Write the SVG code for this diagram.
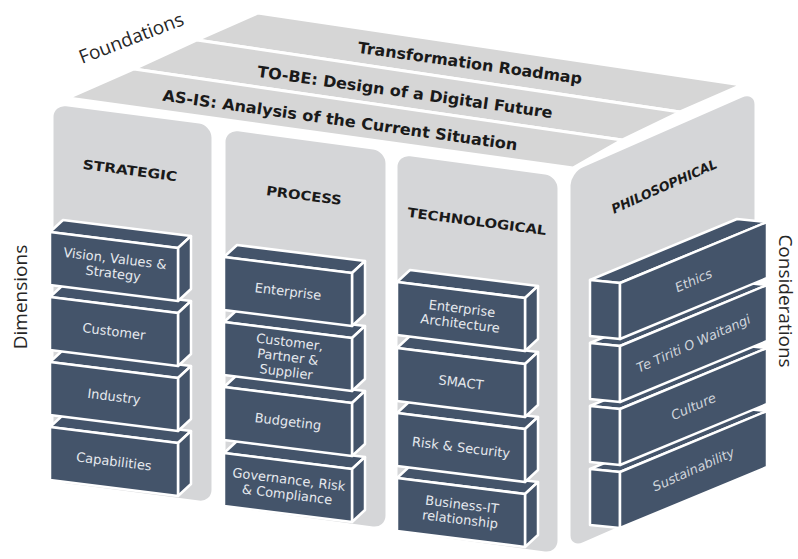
<svg xmlns="http://www.w3.org/2000/svg" xmlns:xlink="http://www.w3.org/1999/xlink" width="798" height="559" viewBox="0 0 798 559">
  <style>
    .strip{fill:#d6d6d6;stroke:#fff;stroke-width:3;stroke-linejoin:round}
    .pillar{fill:#d5d6d8;stroke:#fff;stroke-width:3}
    .bf{fill:#44546a;stroke:#fff;stroke-width:2.5;stroke-linejoin:round}
    .band{font-family:"DejaVu Sans",Verdana,sans-serif;font-weight:bold;font-size:15.5px;fill:#1a1a1a;text-anchor:middle}
    .head{font-family:"DejaVu Sans",Verdana,sans-serif;font-weight:bold;font-size:13px;fill:#1a1a1a;text-anchor:middle}
    .bt{font-family:"DejaVu Sans",Verdana,sans-serif;font-size:13px;fill:#e6e9ee;text-anchor:middle}
    .pt{font-family:"DejaVu Sans",Verdana,sans-serif;font-style:italic;font-size:13px;fill:#d0d5dc;text-anchor:middle}
    .side{font-family:"Open Sans","Noto Sans",sans-serif;font-size:19px;fill:#262626}
  </style>
  <defs>
    <!-- block facing the viewer: top, right side, front -->
    <g id="fb">
      <path class="bf" d="M0,0 L13,-12 L141,4 L128,16 Z"/>
      <path class="bf" d="M128,16 L141,4 L141,57 L128,69 Z"/>
      <path class="bf" d="M0,0 L128,16 L128,69 L0,53 Z"/>
    </g>
    <!-- block on the side face: top, end, long face -->
    <g id="pb">
      <path class="bf" d="M0,0 L147,-61 L177,-58 L30,3 Z"/>
      <path class="bf" d="M0,0 L30,3 L30,59 L0,56 Z"/>
      <path class="bf" d="M30,3 L177,-58 L177,-2 L30,59 Z"/>
    </g>
  </defs>

  <!-- top surface: three foundation bands -->
  <g id="band-roadmap">
    <polygon class="strip" points="258,13 742,85 680,112 197,40"/>
    <text class="band" transform="translate(470,63) rotate(8)" y="5.5" textLength="226" lengthAdjust="spacingAndGlyphs">Transformation Roadmap</text>
  </g>
  <g id="band-tobe">
    <polygon class="strip" points="197,40 680,112 622,140 134,69"/>
    <text class="band" transform="translate(405,92) rotate(8)" y="5.5" textLength="298" lengthAdjust="spacingAndGlyphs">TO-BE: Design of a Digital Future</text>
  </g>
  <g id="band-asis">
    <polygon class="strip" points="134,69 622,140 573,168 68,98"/>
    <text class="band" transform="translate(340,120) rotate(8)" y="5.5" textLength="358" lengthAdjust="spacingAndGlyphs">AS-IS: Analysis of the Current Situation</text>
  </g>

  <!-- pillars -->
  <g id="pillar-strategic">
    <rect class="pillar" transform="translate(52,103) skewY(7.4)" width="161" height="380" rx="14"/>
    <text class="head" transform="translate(130,170) rotate(7.5)" y="5" textLength="95" lengthAdjust="spacingAndGlyphs">STRATEGIC</text>
  </g>
  <g id="pillar-process">
    <rect class="pillar" transform="translate(224,128) skewY(7.6)" width="163" height="380" rx="14"/>
    <text class="head" transform="translate(304,195) rotate(7.5)" y="5" textLength="76" lengthAdjust="spacingAndGlyphs">PROCESS</text>
  </g>
  <g id="pillar-technological">
    <rect class="pillar" transform="translate(396,153) skewY(7.6)" width="163" height="380" rx="14"/>
    <text class="head" transform="translate(477,221) rotate(7.5)" y="5" textLength="140" lengthAdjust="spacingAndGlyphs">TECHNOLOGICAL</text>
  </g>
  <g id="pillar-philosophical">
    <rect class="pillar" transform="translate(569,172) skewY(-23.7)" width="187" height="378" rx="14"/>
    <text class="head" font-style="italic" transform="translate(664,186) rotate(-24)" y="5" textLength="114" lengthAdjust="spacingAndGlyphs">PHILOSOPHICAL</text>
  </g>

  <!-- strategic blocks -->
  <g id="blk-capabilities" transform="translate(50,427)">
    <use xlink:href="#fb"/>
    <text class="bt" transform="rotate(7 64 34.5)"><tspan x="64" y="39">Capabilities</tspan></text>
  </g>
  <g id="blk-industry" transform="translate(50,362)">
    <use xlink:href="#fb"/>
    <text class="bt" transform="rotate(7 64 34.5)"><tspan x="64" y="39">Industry</tspan></text>
  </g>
  <g id="blk-customer" transform="translate(50,297)">
    <use xlink:href="#fb"/>
    <text class="bt" transform="rotate(7 64 34.5)"><tspan x="64" y="39">Customer</tspan></text>
  </g>
  <g id="blk-vision" transform="translate(50,232)">
    <use xlink:href="#fb"/>
    <text class="bt" transform="rotate(7 64 34.5)"><tspan x="64" y="31">Vision, Values &amp;</tspan><tspan x="64" y="46">Strategy</tspan></text>
  </g>

  <!-- process blocks -->
  <g id="blk-governance" transform="translate(224,453)">
    <use xlink:href="#fb"/>
    <text class="bt" transform="rotate(7 64 34.5)"><tspan x="64" y="31">Governance, Risk</tspan><tspan x="64" y="46">&amp; Compliance</tspan></text>
  </g>
  <g id="blk-budgeting" transform="translate(224,387)">
    <use xlink:href="#fb"/>
    <text class="bt" transform="rotate(7 64 34.5)"><tspan x="64" y="39">Budgeting</tspan></text>
  </g>
  <g id="blk-partners" transform="translate(224,322)">
    <use xlink:href="#fb"/>
    <text class="bt" transform="rotate(7 64 34.5)"><tspan x="64" y="24.5">Customer,</tspan><tspan x="64" y="39.5">Partner &amp;</tspan><tspan x="64" y="54.5">Supplier</tspan></text>
  </g>
  <g id="blk-enterprise" transform="translate(224,257)">
    <use xlink:href="#fb"/>
    <text class="bt" transform="rotate(7 64 34.5)"><tspan x="64" y="39">Enterprise</tspan></text>
  </g>

  <!-- technological blocks -->
  <g id="blk-business-it" transform="translate(397,478)">
    <use xlink:href="#fb"/>
    <text class="bt" transform="rotate(7 64 34.5)"><tspan x="64" y="31">Business-IT</tspan><tspan x="64" y="46">relationship</tspan></text>
  </g>
  <g id="blk-risk" transform="translate(397,413)">
    <use xlink:href="#fb"/>
    <text class="bt" transform="rotate(7 64 34.5)"><tspan x="64" y="39">Risk &amp; Security</tspan></text>
  </g>
  <g id="blk-smact" transform="translate(397,348)">
    <use xlink:href="#fb"/>
    <text class="bt" transform="rotate(7 64 34.5)"><tspan x="64" y="39">SMACT</tspan></text>
  </g>
  <g id="blk-ea" transform="translate(397,282)">
    <use xlink:href="#fb"/>
    <text class="bt" transform="rotate(7 64 34.5)"><tspan x="64" y="31">Enterprise</tspan><tspan x="64" y="46">Architecture</tspan></text>
  </g>

  <!-- philosophical blocks -->
  <g id="blk-sustainability" transform="translate(590,469)">
    <use xlink:href="#pb"/>
    <text class="pt" transform="rotate(-24 103.5 0.5)" x="103.5" y="5">Sustainability</text>
  </g>
  <g id="blk-culture" transform="translate(590,406)">
    <use xlink:href="#pb"/>
    <text class="pt" transform="rotate(-24 103.5 0.5)" x="103.5" y="5">Culture</text>
  </g>
  <g id="blk-tiriti" transform="translate(590,343)">
    <use xlink:href="#pb"/>
    <text class="pt" transform="rotate(-24 103.5 0.5)" x="103.5" y="5">Te Tiriti O Waitangi</text>
  </g>
  <g id="blk-ethics" transform="translate(590,280)">
    <use xlink:href="#pb"/>
    <text class="pt" transform="rotate(-24 103.5 0.5)" x="103.5" y="5">Ethics</text>
  </g>

  <!-- axis labels -->
  <g id="label-foundations">
    <text class="side" transform="translate(82,64) rotate(-21)">Foundations</text>
  </g>
  <g id="label-dimensions">
    <text class="side" text-anchor="middle" transform="translate(27,297) rotate(-90)">Dimensions</text>
  </g>
  <g id="label-considerations">
    <text class="side" text-anchor="middle" transform="translate(779,301) rotate(90)">Considerations</text>
  </g>
</svg>
